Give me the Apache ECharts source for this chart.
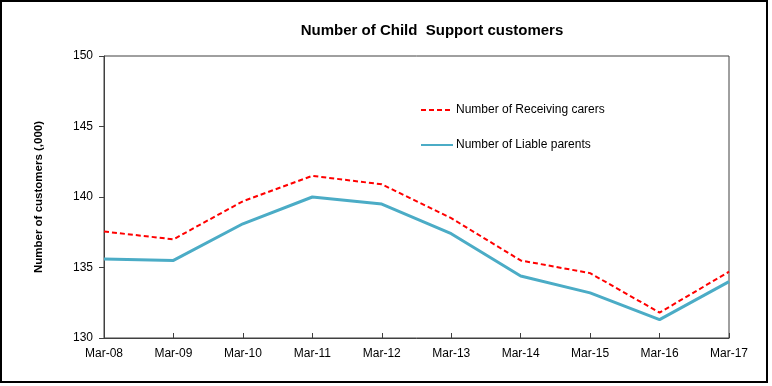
<!DOCTYPE html>
<html>
<head>
<meta charset="utf-8">
<script src="https://cdn.jsdelivr.net/npm/echarts@6/dist/echarts.min.js"></script>
<style>
html,body{margin:0;padding:0;background:#fff;}
#chart{width:772px;height:386px;}
</style>
</head>
<body>
<div id="chart"></div>
<script>
const titleText = 'Number of Child  Support customers';
const yAxisName = 'Number of customers (,000)';
const categories = ['Mar-08','Mar-09','Mar-10','Mar-11','Mar-12','Mar-13','Mar-14','Mar-15','Mar-16','Mar-17'];
const receivingCarers = [137.55, 137.0, 139.7, 141.5, 140.9, 138.5, 135.5, 134.6, 131.8, 134.7];
const liableParents = [135.6, 135.5, 138.1, 140.0, 139.5, 137.4, 134.4, 133.2, 131.3, 134.0];
const seriesNames = ['Number of Receiving carers', 'Number of Liable parents'];

const chart = echarts.init(document.getElementById('chart'), null, {renderer:'canvas'});
const font = 'Liberation Sans, Arial, sans-serif';
chart.setOption({
  animation: false,
  textStyle: {fontFamily: font},
  title: {
    text: titleText,
    left: 427, top: 18, textAlign: 'center',
    textStyle: {fontFamily: font, fontSize: 15, fontWeight: 'bold', color: '#000'}
  },
  graphic: [{
    type: 'rect', shape: {x: 1, y: 1, width: 766, height: 381},
    style: {fill: 'none', stroke: '#000', lineWidth: 2}, silent: true, z: 100
  }],
  legend: {
    orient: 'vertical', left: 420, top: 104, padding: 0, itemWidth: 32, itemHeight: 12, itemGap: 23,
    itemStyle: {opacity: 0},
    textStyle: {fontFamily: font, fontSize: 12, color: '#000', padding: [0,0,0,-2]},
    data: seriesNames
  },
  grid: {left: 104, right: 43, top: 56, bottom: 48, show: true, borderColor: '#404040', borderWidth: 1, containLabel: false},
  xAxis: {
    type: 'category', data: categories, boundaryGap: false,
    axisLine: {lineStyle: {color: '#404040', width: 1}},
    axisTick: {show: true, inside: true, length: 5, alignWithLabel: true, lineStyle: {color: '#404040'}},
    axisLabel: {fontFamily: font, fontSize: 12, color: '#000', margin: 10, interval: 0},
    splitLine: {show: false}
  },
  yAxis: {
    type: 'value', min: 130, max: 150, interval: 5,
    name: yAxisName, nameLocation: 'middle', nameGap: 59,
    nameTextStyle: {fontFamily: font, fontSize: 11.5, fontWeight: 'bold', color: '#000'},
    axisLine: {show: true, lineStyle: {color: '#404040', width: 1}},
    axisTick: {show: true, inside: false, length: 5, lineStyle: {color: '#404040'}},
    axisLabel: {fontFamily: font, fontSize: 12, color: '#000', margin: 11},
    splitLine: {show: false}
  },
  series: [
    {
      name: seriesNames[0], type: 'line', data: receivingCarers, symbol: 'none',
      lineStyle: {color: '#FF0000', width: 2, type: [5, 3]}, itemStyle: {color: '#FF0000'}, z: 3
    },
    {
      name: seriesNames[1], type: 'line', data: liableParents, symbol: 'none',
      lineStyle: {color: '#4BACC6', width: 3}, itemStyle: {color: '#4BACC6'}, z: 2
    }
  ]
});
</script>
</body>
</html>
